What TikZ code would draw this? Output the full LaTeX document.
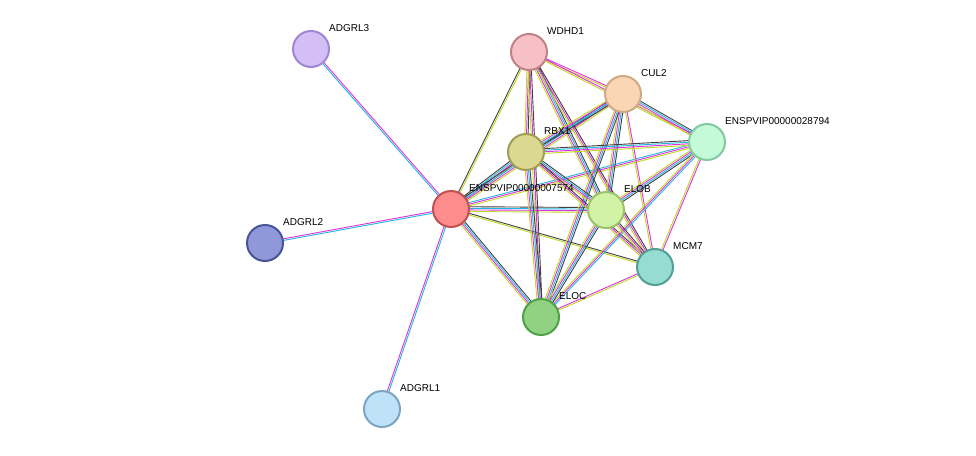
\documentclass[tikz,border=0pt]{standalone}
\usepackage{fontspec}
\setmainfont{Liberation Sans}
\usetikzlibrary{calc}
\definecolor{cy}{HTML}{20B8E0}
\definecolor{mg}{HTML}{E030E0}
\definecolor{yg}{HTML}{C0D820}
\definecolor{bk}{HTML}{404040}
\definecolor{bl}{HTML}{4060D0}
\begin{document}
\begin{tikzpicture}[x=1pt,y=-1pt,
  prot/.style={circle,minimum size=36pt,line width=2pt,inner sep=0pt},
  lab/.style={anchor=west,font=\fontsize{10}{11}\selectfont,inner sep=0pt}]
\useasboundingbox[fill=white] (0,0) rectangle (976,455);
\coordinate (L3) at (311,49);
\coordinate (WD) at (529,52);
\coordinate (CU) at (623,94);
\coordinate (E8) at (707,142);
\coordinate (RB) at (526,152);
\coordinate (E7) at (451,209);
\coordinate (EB) at (606,210);
\coordinate (L2) at (265,243);
\coordinate (MC) at (655,267);
\coordinate (EC) at (541,317);
\coordinate (L1) at (382,409);
\def\SA{cy/-0.8,mg/0.8}
\def\SB{yg/-0.8,bk/0.8}
\def\SC{yg/-0.8,mg/0.8}
\def\SD{yg/-1.6,mg/0,bk/1.6}
\def\SE{yg/-2.4,mg/-0.8,cy/0.8,bk/2.4}
\def\SF{yg/-2.4,mg/-0.8,cy/0.8,bk/2.4}
\def\SG{yg/-1.6,mg/0,cy/1.6}
\newcommand\edg[3]{\foreach \c/\o in #3 {\draw[\c,line width=0.9pt] ($(#1)!\o pt!90:(#2)$) -- ($(#2)!\o pt!-90:(#1)$);}}
\edg{L3}{E7}{\SA}
\edg{L2}{E7}{\SA}
\edg{L1}{E7}{\SA}
\edg{E7}{WD}{\SB}
\edg{E7}{RB}{\SE}
\edg{E7}{CU}{\SE}
\edg{E7}{E8}{\SG}
\edg{E7}{EB}{\SE}
\edg{E7}{MC}{\SB}
\edg{E7}{EC}{\SE}
\edg{WD}{CU}{\SC}
\edg{WD}{RB}{\SD}
\edg{WD}{E8}{\SC}
\edg{WD}{EB}{\SE}
\edg{WD}{EC}{\SD}
\edg{WD}{MC}{\SD}
\edg{CU}{RB}{\SF}
\edg{CU}{E8}{\SE}
\edg{CU}{EB}{\SF}
\edg{CU}{EC}{\SF}
\edg{CU}{MC}{\SC}
\edg{RB}{E8}{\SF}
\edg{RB}{EB}{\SF}
\edg{RB}{EC}{\SF}
\edg{RB}{MC}{\SD}
\edg{E8}{EB}{\SF}
\edg{E8}{EC}{\SG}
\edg{E8}{MC}{\SC}
\edg{EB}{EC}{\SF}
\edg{EB}{MC}{\SD}
\edg{EC}{MC}{\SC}
\node[prot,fill={rgb,255:red,212;green,190;blue,246},draw={rgb,255:red,160;green,135;blue,210}] (nL3) at (L3) {};
\node[prot,fill={rgb,255:red,246;green,192;blue,196},draw={rgb,255:red,190;green,130;blue,135}] (nWD) at (WD) {};
\node[prot,fill={rgb,255:red,250;green,214;blue,180},draw={rgb,255:red,205;green,170;blue,130}] (nCU) at (CU) {};
\node[prot,fill={rgb,255:red,196;green,250;blue,216},draw={rgb,255:red,130;green,200;blue,160}] (nE8) at (E8) {};
\node[prot,fill={rgb,255:red,218;green,216;blue,145},draw={rgb,255:red,160;green,158;blue,85}] (nRB) at (RB) {};
\node[prot,fill={rgb,255:red,255;green,140;blue,140},draw={rgb,255:red,195;green,80;blue,80}] (nE7) at (E7) {};
\node[prot,fill={rgb,255:red,210;green,242;blue,165},draw={rgb,255:red,155;green,195;blue,105}] (nEB) at (EB) {};
\node[prot,fill={rgb,255:red,145;green,152;blue,218},draw={rgb,255:red,70;green,85;blue,150}] (nL2) at (L2) {};
\node[prot,fill={rgb,255:red,150;green,220;blue,210},draw={rgb,255:red,80;green,160;blue,150}] (nMC) at (MC) {};
\node[prot,fill={rgb,255:red,145;green,210;blue,130},draw={rgb,255:red,80;green,160;blue,70}] (nEC) at (EC) {};
\node[prot,fill={rgb,255:red,190;green,226;blue,248},draw={rgb,255:red,125;green,165;blue,195}] (nL1) at (L1) {};
\node[lab] (tL3) at ($(L3)+(18,-21)$) {ADGRL3};
\node[lab] (tWD) at ($(WD)+(18,-21)$) {WDHD1};
\node[lab] (tCU) at ($(CU)+(18,-21)$) {CUL2};
\node[lab] (tE8) at ($(E8)+(18,-21)$) {ENSPVIP00000028794};
\node[lab] (tRB) at ($(RB)+(18,-21)$) {RBX1};
\node[lab] (tE7) at ($(E7)+(18,-21)$) {ENSPVIP00000007574};
\node[lab] (tEB) at ($(EB)+(18,-21)$) {ELOB};
\node[lab] (tL2) at ($(L2)+(18,-21)$) {ADGRL2};
\node[lab] (tMC) at ($(MC)+(18,-21)$) {MCM7};
\node[lab] (tEC) at ($(EC)+(18,-21)$) {ELOC};
\node[lab] (tL1) at ($(L1)+(18,-21)$) {ADGRL1};
\end{tikzpicture}
\end{document}
